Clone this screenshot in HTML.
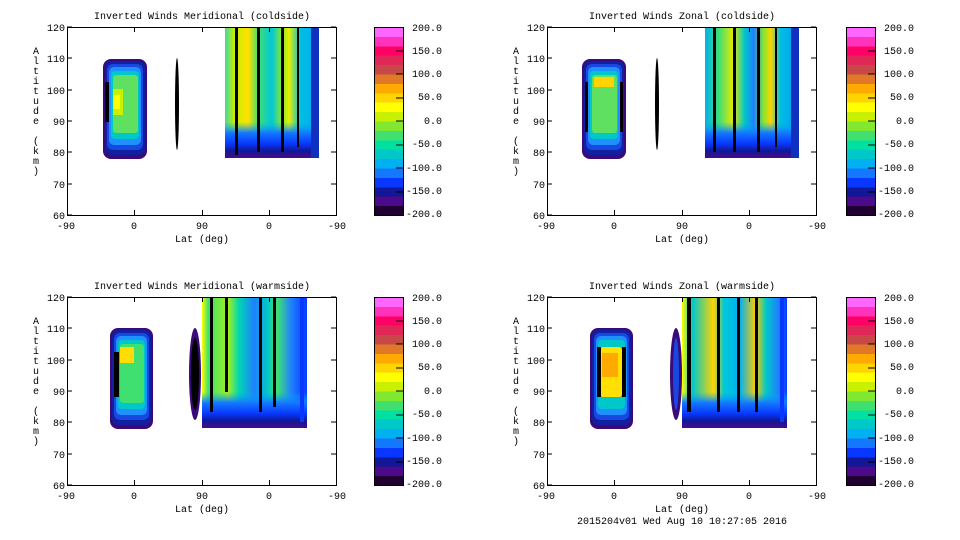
<!DOCTYPE html>
<html><head><meta charset="utf-8"><style>
html,body{margin:0;padding:0;background:#fff;}
svg{display:block;font-family:"Liberation Mono",monospace;font-size:10px;}
</style></head><body>
<svg width="960" height="540" viewBox="0 0 960 540" xmlns="http://www.w3.org/2000/svg">
<defs>
<linearGradient id="cb" x1="0" y1="0" x2="0" y2="1">
<stop offset="0" stop-color="#ff66ff"/><stop offset="0.05" stop-color="#ff66ff"/>
<stop offset="0.05" stop-color="#ff33bb"/><stop offset="0.1" stop-color="#ff33bb"/>
<stop offset="0.1" stop-color="#ff0066"/><stop offset="0.15" stop-color="#ff0066"/>
<stop offset="0.15" stop-color="#e02858"/><stop offset="0.2" stop-color="#e02858"/>
<stop offset="0.2" stop-color="#c84848"/><stop offset="0.25" stop-color="#c84848"/>
<stop offset="0.25" stop-color="#e07828"/><stop offset="0.3" stop-color="#e07828"/>
<stop offset="0.3" stop-color="#ffaa00"/><stop offset="0.35" stop-color="#ffaa00"/>
<stop offset="0.35" stop-color="#ffd400"/><stop offset="0.4" stop-color="#ffd400"/>
<stop offset="0.4" stop-color="#ffff00"/><stop offset="0.45" stop-color="#ffff00"/>
<stop offset="0.45" stop-color="#c8f000"/><stop offset="0.5" stop-color="#c8f000"/>
<stop offset="0.5" stop-color="#80e830"/><stop offset="0.55" stop-color="#80e830"/>
<stop offset="0.55" stop-color="#40e070"/><stop offset="0.6" stop-color="#40e070"/>
<stop offset="0.6" stop-color="#00e0a0"/><stop offset="0.65" stop-color="#00e0a0"/>
<stop offset="0.65" stop-color="#00c8c8"/><stop offset="0.7" stop-color="#00c8c8"/>
<stop offset="0.7" stop-color="#00b0f0"/><stop offset="0.75" stop-color="#00b0f0"/>
<stop offset="0.75" stop-color="#1478ff"/><stop offset="0.8" stop-color="#1478ff"/>
<stop offset="0.8" stop-color="#0838ff"/><stop offset="0.85" stop-color="#0838ff"/>
<stop offset="0.85" stop-color="#101898"/><stop offset="0.9" stop-color="#101898"/>
<stop offset="0.9" stop-color="#4a0a8a"/><stop offset="0.95" stop-color="#4a0a8a"/>
<stop offset="0.95" stop-color="#200030"/><stop offset="1" stop-color="#200030"/>
</linearGradient>
<linearGradient id="s1" x1="0" y1="0" x2="1" y2="0">
<stop offset="0" stop-color="#40d8a0"/><stop offset="0.1" stop-color="#c8f000"/>
<stop offset="0.25" stop-color="#ffe000"/><stop offset="0.35" stop-color="#40e070"/>
<stop offset="0.5" stop-color="#00c8d8"/><stop offset="0.6" stop-color="#80e830"/>
<stop offset="0.68" stop-color="#e8f000"/><stop offset="0.8" stop-color="#00c0e0"/>
<stop offset="0.92" stop-color="#00b0f0"/><stop offset="1" stop-color="#1040e0"/>
</linearGradient>
<linearGradient id="s2" x1="0" y1="0" x2="1" y2="0">
<stop offset="0" stop-color="#00b0f0"/><stop offset="0.15" stop-color="#40e070"/>
<stop offset="0.3" stop-color="#e8e800"/><stop offset="0.42" stop-color="#00c8c8"/>
<stop offset="0.52" stop-color="#1e80ff"/><stop offset="0.62" stop-color="#80e830"/>
<stop offset="0.7" stop-color="#ffd400"/><stop offset="0.8" stop-color="#00c0e0"/>
<stop offset="0.92" stop-color="#00a8f0"/><stop offset="1" stop-color="#1030d0"/>
</linearGradient>
<linearGradient id="s3" x1="0" y1="0" x2="1" y2="0">
<stop offset="0" stop-color="#ffff00"/><stop offset="0.06" stop-color="#40e070"/>
<stop offset="0.25" stop-color="#a0f020"/><stop offset="0.35" stop-color="#00d8b0"/>
<stop offset="0.5" stop-color="#1e80ff"/><stop offset="0.62" stop-color="#00c8c8"/>
<stop offset="0.72" stop-color="#40e070"/><stop offset="0.85" stop-color="#1e80ff"/>
<stop offset="1" stop-color="#0838ff"/>
</linearGradient>
<linearGradient id="s4" x1="0" y1="0" x2="1" y2="0">
<stop offset="0" stop-color="#ffff00"/><stop offset="0.1" stop-color="#00c8c8"/>
<stop offset="0.3" stop-color="#ffd400"/><stop offset="0.4" stop-color="#00c8d8"/>
<stop offset="0.55" stop-color="#00b0f0"/><stop offset="0.7" stop-color="#ffcc00"/>
<stop offset="0.8" stop-color="#00c8c8"/><stop offset="0.92" stop-color="#1e80ff"/>
<stop offset="1" stop-color="#0838ff"/>
</linearGradient>
<linearGradient id="bot" x1="0" y1="0" x2="0" y2="1">
<stop offset="0" stop-color="#00b0f0" stop-opacity="0"/><stop offset="0.3" stop-color="#1478ff"/>
<stop offset="0.6" stop-color="#0838ff"/><stop offset="0.8" stop-color="#101898"/>
<stop offset="1" stop-color="#4a0a8a"/>
</linearGradient>
</defs>

<!-- Panel TL -->
<g transform="translate(67,27)">
 <g>
  <rect x="36" y="32" width="44" height="100" rx="8" fill="#3a0a7a"/>
  <rect x="38" y="34" width="40" height="94" rx="7" fill="#1020a0"/>
  <rect x="40" y="37" width="36" height="86" rx="6" fill="#1848e0"/>
  <rect x="42" y="40" width="32" height="78" rx="5" fill="#1e90ff"/>
  <rect x="44" y="44" width="28" height="68" rx="4" fill="#00c8c8"/>
  <rect x="46" y="48" width="25" height="58" rx="3" fill="#60e060"/>
  <rect x="46" y="62" width="10" height="26" fill="#c8f000"/>
  <rect x="46" y="68" width="7" height="14" fill="#ffff00"/>
  <rect x="38" y="55" width="4" height="40" fill="#000"/>
 </g>
 <ellipse cx="110" cy="77" rx="2" ry="46" fill="#000"/>
 <g>
  <rect x="158" y="0" width="94" height="131" fill="url(#s1)"/>
  <rect x="158" y="95" width="94" height="36" fill="url(#bot)"/>
  <rect x="244" y="0" width="8" height="131" fill="#1030c0"/>
  <rect x="168" y="0" width="3" height="128" fill="#000"/>
  <rect x="190" y="0" width="3" height="125" fill="#000"/>
  <rect x="214" y="0" width="3" height="125" fill="#000"/>
  <rect x="230" y="0" width="2" height="120" fill="#000"/>
 </g>
</g>
<!-- Panel TR -->
<g transform="translate(547,27)">
 <g>
  <rect x="35" y="32" width="44" height="100" rx="8" fill="#3a0a7a"/>
  <rect x="37" y="34" width="40" height="94" rx="7" fill="#1020a0"/>
  <rect x="39" y="37" width="36" height="86" rx="6" fill="#1848e0"/>
  <rect x="41" y="40" width="32" height="78" rx="5" fill="#1e90ff"/>
  <rect x="43" y="44" width="28" height="68" rx="4" fill="#00c8c8"/>
  <rect x="45" y="48" width="25" height="58" rx="3" fill="#60e060"/>
  <rect x="47" y="50" width="20" height="10" fill="#ffd400"/>
  <rect x="38" y="55" width="3" height="50" fill="#000"/>
  <rect x="73" y="55" width="3" height="50" fill="#000"/>
 </g>
 <ellipse cx="110" cy="77" rx="2" ry="46" fill="#000"/>
 <g>
  <rect x="158" y="0" width="94" height="131" fill="url(#s2)"/>
  <rect x="158" y="95" width="94" height="36" fill="url(#bot)"/>
  <rect x="244" y="0" width="8" height="131" fill="#1030c0"/>
  <rect x="166" y="0" width="3" height="125" fill="#000"/>
  <rect x="186" y="0" width="3" height="125" fill="#000"/>
  <rect x="210" y="0" width="3" height="125" fill="#000"/>
  <rect x="228" y="0" width="2" height="120" fill="#000"/>
 </g>
</g>
<!-- Panel BL -->
<g transform="translate(67,297)">
 <g>
  <rect x="43" y="31" width="43" height="101" rx="8" fill="#3a0a7a"/>
  <rect x="45" y="33" width="39" height="95" rx="7" fill="#1020a0"/>
  <rect x="47" y="36" width="35" height="87" rx="6" fill="#1848e0"/>
  <rect x="49" y="39" width="31" height="79" rx="5" fill="#1e90ff"/>
  <rect x="51" y="43" width="27" height="69" rx="4" fill="#00c8c8"/>
  <rect x="53" y="47" width="24" height="59" rx="3" fill="#40e070"/>
  <rect x="53" y="50" width="14" height="16" fill="#ffdd00"/>
  <rect x="47" y="55" width="5" height="45" fill="#000"/>
 </g>
 <g>
  <ellipse cx="128" cy="77" rx="6" ry="46" fill="#3a0a7a"/>
  <ellipse cx="128" cy="77" rx="4" ry="36" fill="#000"/>
 </g>
 <g>
  <rect x="135" y="0" width="105" height="131" fill="url(#s3)"/>
  <rect x="135" y="95" width="105" height="36" fill="url(#bot)"/>
  <rect x="143" y="0" width="3" height="115" fill="#000"/>
  <rect x="158" y="0" width="3" height="95" fill="#000"/>
  <rect x="192" y="0" width="3" height="115" fill="#000"/>
  <rect x="206" y="0" width="3" height="110" fill="#000"/>
  <rect x="233" y="0" width="4" height="125" fill="#0838ff"/>
 </g>
</g>
<!-- Panel BR -->
<g transform="translate(547,297)">
 <g>
  <rect x="43" y="31" width="43" height="101" rx="8" fill="#3a0a7a"/>
  <rect x="45" y="33" width="39" height="95" rx="7" fill="#1020a0"/>
  <rect x="47" y="36" width="35" height="87" rx="6" fill="#1848e0"/>
  <rect x="49" y="39" width="31" height="79" rx="5" fill="#1e90ff"/>
  <rect x="51" y="43" width="27" height="69" rx="4" fill="#00c8c8"/>
  <rect x="53" y="50" width="22" height="50" rx="3" fill="#ffe000"/>
  <rect x="55" y="56" width="16" height="24" fill="#ffaa00"/>
  <rect x="50" y="50" width="4" height="50" fill="#000"/>
  <rect x="75" y="50" width="4" height="50" fill="#000"/>
 </g>
 <g>
  <ellipse cx="129" cy="77" rx="6" ry="46" fill="#3a0a7a"/>
  <ellipse cx="129" cy="77" rx="3" ry="36" fill="#1848e0"/>
 </g>
 <g>
  <rect x="135" y="0" width="105" height="131" fill="url(#s4)"/>
  <rect x="135" y="95" width="105" height="36" fill="url(#bot)"/>
  <rect x="140" y="0" width="4" height="115" fill="#000"/>
  <rect x="170" y="0" width="3" height="115" fill="#000"/>
  <rect x="190" y="0" width="3" height="115" fill="#000"/>
  <rect x="208" y="0" width="3" height="115" fill="#000"/>
  <rect x="233" y="0" width="4" height="125" fill="#0838ff"/>
 </g>
</g>

<g fill="none" stroke="#000" stroke-width="1">
 <rect x="67.5" y="27.5" width="269" height="188"/>
 <rect x="547.5" y="27.5" width="269" height="188"/>
 <rect x="67.5" y="297.5" width="269" height="188"/>
 <rect x="547.5" y="297.5" width="269" height="188"/>
</g>
<g stroke="#000" stroke-width="1">
 <path d="M67 27h5M67 58h5M67 90h5M67 121h5M67 152h5M67 184h5M67 215h5 M331 27h5M331 58h5M331 90h5M331 121h5M331 152h5M331 184h5
 M134.5 215v-5M202.5 215v-5M269.5 215v-5M134.5 27v5M202.5 27v5M269.5 27v5"/>
 <path d="M547 27h5M547 58h5M547 90h5M547 121h5M547 152h5M547 184h5M547 215h5 M811 27h5M811 58h5M811 90h5M811 121h5M811 152h5M811 184h5
 M614.5 215v-5M682.5 215v-5M749.5 215v-5M614.5 27v5M682.5 27v5M749.5 27v5"/>
 <path d="M67 297h5M67 328h5M67 360h5M67 391h5M67 422h5M67 454h5M67 485h5 M331 297h5M331 328h5M331 360h5M331 391h5M331 422h5M331 454h5
 M134.5 485v-5M202.5 485v-5M269.5 485v-5M134.5 297v5M202.5 297v5M269.5 297v5"/>
 <path d="M547 297h5M547 328h5M547 360h5M547 391h5M547 422h5M547 454h5M547 485h5 M811 297h5M811 328h5M811 360h5M811 391h5M811 422h5M811 454h5
 M614.5 485v-5M682.5 485v-5M749.5 485v-5M614.5 297v5M682.5 297v5M749.5 297v5"/>
</g>

<g>
 <rect x="374.5" y="27.5" width="29" height="188" fill="url(#cb)" stroke="#000"/>
 <rect x="846.5" y="27.5" width="29" height="188" fill="url(#cb)" stroke="#000"/>
 <rect x="374.5" y="297.5" width="29" height="188" fill="url(#cb)" stroke="#000"/>
 <rect x="846.5" y="297.5" width="29" height="188" fill="url(#cb)" stroke="#000"/>
</g>
<g stroke="#000">
 <path d="M396 51h7M396 74h7M396 98h7M396 121h7M396 145h7M396 168h7M396 192h7"/>
 <path d="M868 51h7M868 74h7M868 98h7M868 121h7M868 145h7M868 168h7M868 192h7"/>
 <path d="M396 321h7M396 344h7M396 368h7M396 391h7M396 415h7M396 438h7M396 462h7"/>
 <path d="M868 321h7M868 344h7M868 368h7M868 391h7M868 415h7M868 438h7M868 462h7"/>
</g>
<g fill="#000" text-anchor="end">
 <g><text x="442" y="31">200.0</text><text x="442" y="54">150.0</text><text x="442" y="77">100.0</text><text x="442" y="100">50.0</text><text x="442" y="124">0.0</text><text x="442" y="147">-50.0</text><text x="442" y="171">-100.0</text><text x="442" y="194">-150.0</text><text x="442" y="217">-200.0</text></g>
 <g transform="translate(472,0)"><text x="442" y="31">200.0</text><text x="442" y="54">150.0</text><text x="442" y="77">100.0</text><text x="442" y="100">50.0</text><text x="442" y="124">0.0</text><text x="442" y="147">-50.0</text><text x="442" y="171">-100.0</text><text x="442" y="194">-150.0</text><text x="442" y="217">-200.0</text></g>
 <g transform="translate(0,270)"><text x="442" y="31">200.0</text><text x="442" y="54">150.0</text><text x="442" y="77">100.0</text><text x="442" y="100">50.0</text><text x="442" y="124">0.0</text><text x="442" y="147">-50.0</text><text x="442" y="171">-100.0</text><text x="442" y="194">-150.0</text><text x="442" y="217">-200.0</text></g>
 <g transform="translate(472,270)"><text x="442" y="31">200.0</text><text x="442" y="54">150.0</text><text x="442" y="77">100.0</text><text x="442" y="100">50.0</text><text x="442" y="124">0.0</text><text x="442" y="147">-50.0</text><text x="442" y="171">-100.0</text><text x="442" y="194">-150.0</text><text x="442" y="217">-200.0</text></g>
</g>

<g fill="#000" text-anchor="end">
 <g><text x="65" y="31">120</text><text x="65" y="62">110</text><text x="65" y="94">100</text><text x="65" y="125">90</text><text x="65" y="156">80</text><text x="65" y="188">70</text><text x="65" y="219">60</text></g>
 <g transform="translate(480,0)"><text x="65" y="31">120</text><text x="65" y="62">110</text><text x="65" y="94">100</text><text x="65" y="125">90</text><text x="65" y="156">80</text><text x="65" y="188">70</text><text x="65" y="219">60</text></g>
 <g transform="translate(0,270)"><text x="65" y="31">120</text><text x="65" y="62">110</text><text x="65" y="94">100</text><text x="65" y="125">90</text><text x="65" y="156">80</text><text x="65" y="188">70</text><text x="65" y="219">60</text></g>
 <g transform="translate(480,270)"><text x="65" y="31">120</text><text x="65" y="62">110</text><text x="65" y="94">100</text><text x="65" y="125">90</text><text x="65" y="156">80</text><text x="65" y="188">70</text><text x="65" y="219">60</text></g>
</g>
<g fill="#000" text-anchor="middle">
 <g><text x="66" y="229">-90</text><text x="134" y="229">0</text><text x="202" y="229">90</text><text x="269" y="229">0</text><text x="337" y="229">-90</text><text x="202" y="242">Lat (deg)</text><text x="202" y="19">Inverted Winds Meridional (coldside)</text></g>
 <g transform="translate(480,0)"><text x="66" y="229">-90</text><text x="134" y="229">0</text><text x="202" y="229">90</text><text x="269" y="229">0</text><text x="337" y="229">-90</text><text x="202" y="242">Lat (deg)</text><text x="202" y="19">Inverted Winds Zonal (coldside)</text></g>
 <g transform="translate(0,270)"><text x="66" y="229">-90</text><text x="134" y="229">0</text><text x="202" y="229">90</text><text x="269" y="229">0</text><text x="337" y="229">-90</text><text x="202" y="242">Lat (deg)</text><text x="202" y="19">Inverted Winds Meridional (warmside)</text></g>
 <g transform="translate(480,270)"><text x="66" y="229">-90</text><text x="134" y="229">0</text><text x="202" y="229">90</text><text x="269" y="229">0</text><text x="337" y="229">-90</text><text x="202" y="242">Lat (deg)</text><text x="202" y="19">Inverted Winds Zonal (warmside)</text></g>
 <text x="682" y="524">2015204v01 Wed Aug 10 10:27:05 2016</text>
</g>
<g fill="#000" text-anchor="middle">
 <g><text x="36" y="54">A</text><text x="36" y="64">l</text><text x="36" y="74">t</text><text x="36" y="84">i</text><text x="36" y="94">t</text><text x="36" y="104">u</text><text x="36" y="114">d</text><text x="36" y="124">e</text><text x="36" y="144">(</text><text x="36" y="154">k</text><text x="36" y="164">m</text><text x="36" y="174">)</text></g>
 <g transform="translate(480,0)"><text x="36" y="54">A</text><text x="36" y="64">l</text><text x="36" y="74">t</text><text x="36" y="84">i</text><text x="36" y="94">t</text><text x="36" y="104">u</text><text x="36" y="114">d</text><text x="36" y="124">e</text><text x="36" y="144">(</text><text x="36" y="154">k</text><text x="36" y="164">m</text><text x="36" y="174">)</text></g>
 <g transform="translate(0,270)"><text x="36" y="54">A</text><text x="36" y="64">l</text><text x="36" y="74">t</text><text x="36" y="84">i</text><text x="36" y="94">t</text><text x="36" y="104">u</text><text x="36" y="114">d</text><text x="36" y="124">e</text><text x="36" y="144">(</text><text x="36" y="154">k</text><text x="36" y="164">m</text><text x="36" y="174">)</text></g>
 <g transform="translate(480,270)"><text x="36" y="54">A</text><text x="36" y="64">l</text><text x="36" y="74">t</text><text x="36" y="84">i</text><text x="36" y="94">t</text><text x="36" y="104">u</text><text x="36" y="114">d</text><text x="36" y="124">e</text><text x="36" y="144">(</text><text x="36" y="154">k</text><text x="36" y="164">m</text><text x="36" y="174">)</text></g>
</g>
</svg>
</body></html>
